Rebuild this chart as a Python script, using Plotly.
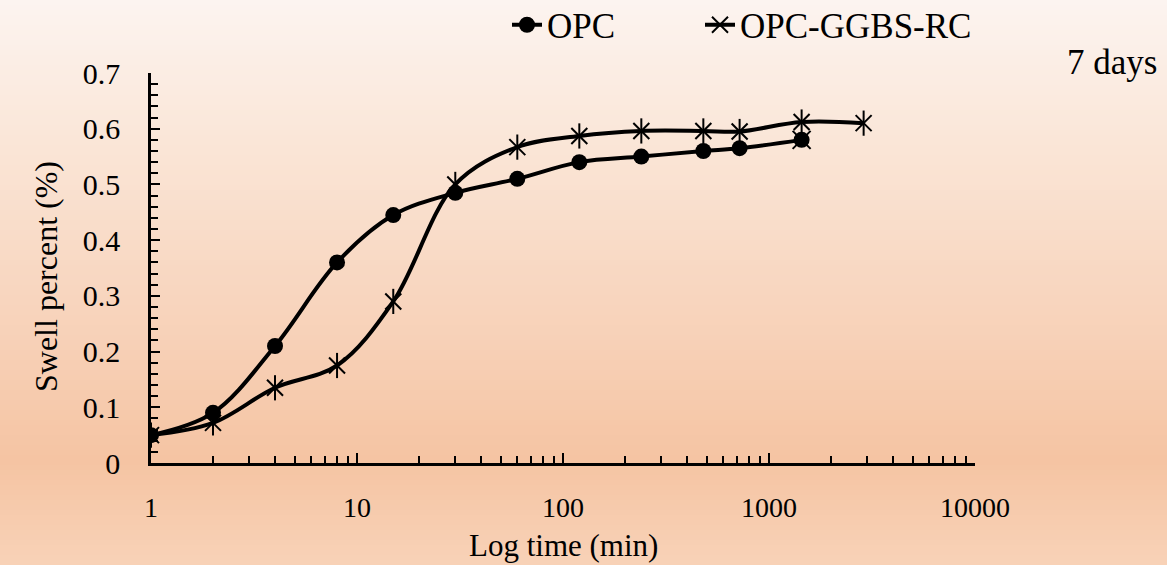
import plotly.graph_objects as go
import numpy as np

# ---- data ----
time_opc = [1, 2, 4, 8, 15, 30, 60, 120, 240, 480, 720, 1440]
swell_opc = [0.05, 0.09, 0.21, 0.36, 0.445, 0.485, 0.51, 0.54, 0.55, 0.56, 0.565, 0.58]

time_rc = [1, 2, 4, 8, 15, 30, 60, 120, 240, 480, 720, 1440, 2880]
swell_rc = [0.05, 0.072, 0.135, 0.175, 0.29, 0.50, 0.567, 0.587, 0.596, 0.596, 0.595, 0.612, 0.61]

extra_time_rc = [1440]
extra_swell_rc = [0.58]

x_major = [1, 10, 100, 1000, 10000]
x_major_text = ["1", "10", "100", "1000", "10000"]
x_minor = [m * d for d in [1, 10, 100, 1000] for m in range(2, 10)]

# ---- layout geometry (px) ----
W, H = 1167, 565
L, R, T, B = 151, 192, 73, 102
PW, PH = W - L - R, H - T - B

FONT = "Liberation Serif, Times New Roman, serif"

fig = go.Figure()

# background gradient bands
stops = [(0, (252, 244, 240)), (150, (250, 229, 214)), (300, (248, 213, 190)),
         (460, (245, 196, 163)), (565, (248, 210, 183))]
def col(py):
    for (a, ca), (b, cb) in zip(stops[:-1], stops[1:]):
        if a <= py <= b:
            t = (py - a) / (b - a)
            return "rgb(%d,%d,%d)" % tuple(round(ca[i] + (cb[i] - ca[i]) * t) for i in range(3))
    return "rgb(%d,%d,%d)" % stops[-1][1]

shapes = []
step = 5
for py in range(0, H, step):
    shapes.append(dict(type="rect", xref="paper", yref="paper",
                       x0=-L / PW - 0.01, x1=(W - L) / PW + 0.01,
                       y0=(T + PH - (py + step + 1)) / PH, y1=(T + PH - py) / PH,
                       fillcolor=col(py + step / 2), line=dict(width=0), layer="below"))

# GGBS series first (drawn underneath)
fig.add_trace(go.Scatter(
    x=time_rc, y=swell_rc, name="OPC-GGBS-RC", mode="lines+markers",
    line=dict(color="black", width=4, shape="spline", smoothing=1),
    marker=dict(symbol="x-thin-open", size=16, color="black", line=dict(color="black", width=2)),
    legendrank=2, legendwidth=270))
fig.add_trace(go.Scatter(
    x=time_rc, y=swell_rc, mode="markers", showlegend=False, hoverinfo="skip",
    marker=dict(symbol="line-ns-open", size=18, color="black", line=dict(color="black", width=2))))
fig.add_trace(go.Scatter(
    x=extra_time_rc, y=extra_swell_rc, mode="markers", showlegend=False,
    marker=dict(symbol="x-thin-open", size=18, color="black", line=dict(color="black", width=2))))

fig.add_trace(go.Scatter(
    x=time_opc, y=swell_opc, name="OPC", mode="lines+markers",
    line=dict(color="black", width=4, shape="spline", smoothing=1),
    marker=dict(symbol="circle", size=16, color="black"),
    legendrank=1, legendwidth=148))

fig.update_layout(
    width=W, height=H,
    margin=dict(l=L, r=R, t=T, b=B, pad=0, autoexpand=False),
    paper_bgcolor="rgb(248,220,200)",
    plot_bgcolor="rgba(0,0,0,0)",
    shapes=shapes,
    font=dict(family=FONT, color="black", size=28),
    showlegend=True,
    legend=dict(orientation="h", x=(507 - L) / PW, xanchor="left",
                y=(T + PH - 25) / PH, yanchor="middle",
                font=dict(family=FONT, size=35, color="black"),
                bgcolor="rgba(0,0,0,0)", traceorder="normal"),
    xaxis=dict(type="log", range=[0, 4], showgrid=False, zeroline=False,
               showline=True, linecolor="black", linewidth=2.5,
               tickmode="array", tickvals=x_major, ticktext=x_major_text,
               ticks="inside", ticklen=10, tickwidth=2, tickcolor="black",
               minor=dict(tickmode="array", tickvals=x_minor, ticks="inside",
                          ticklen=7, tickwidth=1.5, tickcolor="black"),
               tickfont=dict(family=FONT, size=28), ticklabelstandoff=18),
    yaxis=dict(range=[0, 0.7], showgrid=False, zeroline=False,
               showline=True, linecolor="black", linewidth=2.5,
               dtick=0.1, tick0=0,
               ticks="inside", ticklen=9, tickwidth=2, tickcolor="black",
               minor=dict(dtick=0.02, ticks="inside", ticklen=7, tickwidth=1.5, tickcolor="black"),
               tickfont=dict(family=FONT, size=30), ticklabelstandoff=22),
    annotations=[
        dict(text="Swell percent (%)", xref="paper", yref="paper",
             x=(46 - L) / PW, y=(T + PH - 277) / PH, textangle=-90,
             showarrow=False, xanchor="center", yanchor="middle",
             font=dict(family=FONT, size=32)),
        dict(text="Log time (min)", xref="paper", yref="paper",
             x=0.5, y=(T + PH - 545) / PH, showarrow=False,
             xanchor="center", yanchor="middle", font=dict(family=FONT, size=31)),
        dict(text="7 days", xref="paper", yref="paper",
             x=(1112 - L) / PW, y=(T + PH - 62) / PH, showarrow=False,
             xanchor="center", yanchor="middle", font=dict(family=FONT, size=35)),
    ],
)

fig.write_html("out.html")
